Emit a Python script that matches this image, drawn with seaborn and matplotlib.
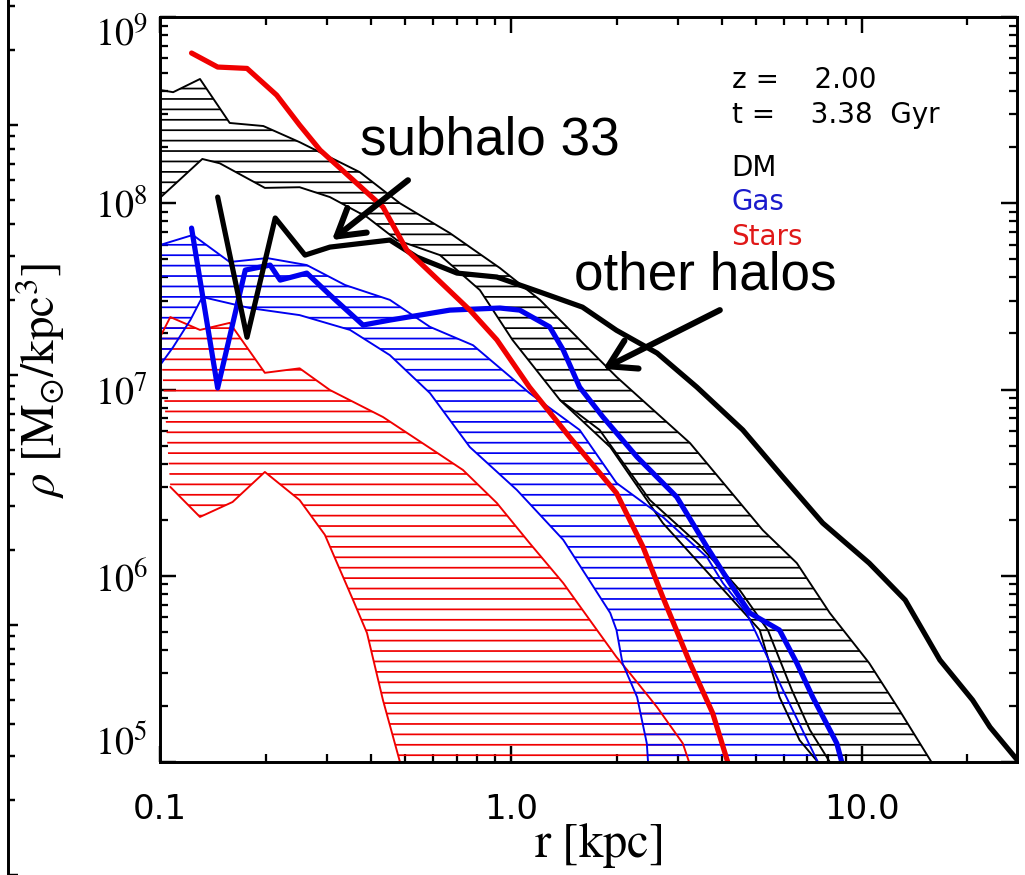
import numpy as np
import matplotlib
matplotlib.use("Agg")
import matplotlib.pyplot as plt
import seaborn as sns
from matplotlib.ticker import LogLocator, NullFormatter

# ---------------- data ----------------
# subhalo 33 profiles (thick lines)
r_star_sub = [0.123, 0.146, 0.177, 0.215, 0.25, 0.286, 0.432, 0.505, 0.764, 0.912, 1.13, 1.47, 2.00, 2.38, 2.71, 3.24, 3.76, 4.15]
rho_star_sub = [6.41e8, 5.39e8, 5.3e8, 3.81e8, 2.63e8, 1.93e8, 9.55e7, 5.61e7, 2.67e7, 1.85e7, 1.03e7, 5.56e6, 2.78e6, 1.43e6, 7.69e5, 3.40e5, 1.83e5, 1.0e5]

r_dm_sub = [0.146, 0.177, 0.213, 0.259, 0.305, 0.452, 0.540, 0.702, 0.912, 1.21, 1.60, 2.00, 2.61, 3.39, 4.58, 5.96, 7.74, 10.5, 13.3, 16.7, 20.7, 23.2, 27.7]
rho_dm_sub = [1.08e8, 1.91e7, 8.34e7, 5.27e7, 5.82e7, 6.35e7, 5.14e7, 4.22e7, 4.02e7, 3.34e7, 2.77e7, 2.08e7, 1.57e7, 1.03e7, 6.07e6, 3.39e6, 1.92e6, 1.17e6, 7.41e5, 3.53e5, 2.15e5, 1.54e5, 1.03e5]

r_gas_sub = [0.123, 0.146, 0.175, 0.206, 0.220, 0.262, 0.305, 0.379, 0.452, 0.670, 0.931, 1.06, 1.29, 1.41, 1.57, 1.83, 2.29, 2.97, 3.62, 4.21, 4.80, 5.83, 6.53, 7.25, 8.49, 8.77]
rho_gas_sub = [7.36e7, 1.02e7, 4.38e7, 4.66e7, 3.87e7, 4.22e7, 3.22e7, 2.22e7, 2.36e7, 2.67e7, 2.74e7, 2.67e7, 2.17e7, 1.63e7, 1.03e7, 7.12e6, 4.34e6, 2.65e6, 1.43e6, 9.14e5, 6.31e5, 5.11e5, 3.40e5, 2.23e5, 1.26e5, 1.0e5]

# other halos: upper / lower envelopes (thin lines + hatched bands)
r_dm_hi = [0.1, 0.109, 0.130, 0.158, 0.197, 0.250, 0.371, 0.483, 0.670, 0.931, 1.21, 2.00, 3.24, 5.22, 6.53, 8.11, 10.5, 12.8, 15.8]
rho_dm_hi = [4.06e8, 3.95e8, 4.65e8, 2.70e8, 2.60e8, 2.13e8, 1.47e8, 1.0e8, 6.92e7, 4.49e7, 3.03e7, 1.17e7, 5.16e6, 1.76e6, 1.17e6, 6.31e5, 3.40e5, 1.90e5, 1.0e5]
r_dm_lo = [0.1, 0.132, 0.148, 0.199, 0.250, 0.305, 0.389, 0.473, 0.628, 0.816, 1.01, 1.38, 1.92, 2.71, 4.21, 5.12, 5.83, 6.65, 7.50]
rho_dm_lo = [1.07e8, 1.73e8, 1.64e8, 1.21e8, 1.22e8, 1.08e8, 8.44e7, 6.35e7, 5.27e7, 3.42e7, 1.85e7, 8.79e6, 4.91e6, 1.92e6, 7.69e5, 5.11e5, 2.23e5, 1.31e5, 1.0e5]
r_dm_mid = [1.38, 1.79, 2.49, 3.45, 4.49, 5.40, 6.32, 7.11, 8.11]
rho_dm_mid = [8.79e6, 6.07e6, 2.55e6, 1.46e6, 8.38e5, 5.11e5, 2.44e5, 1.49e5, 1.0e5]

r_gas_hi = [0.1, 0.124, 0.158, 0.202, 0.262, 0.337, 0.452, 0.588, 0.780, 1.13, 1.57, 2.00, 2.71, 3.62, 4.02, 4.70, 5.22, 5.96, 7.50]
rho_gas_hi = [5.97e7, 6.76e7, 4.84e7, 5.08e7, 4.66e7, 3.64e7, 3.03e7, 2.17e7, 1.73e7, 9.57e6, 6.07e6, 3.15e6, 2.07e6, 1.26e6, 9.14e5, 6.31e5, 4.14e5, 2.44e5, 1.0e5]
r_gas_lo = [0.1, 0.109, 0.122, 0.132, 0.180, 0.250, 0.348, 0.452, 0.588, 0.764, 1.04, 1.41, 1.65, 1.92, 2.00, 2.08, 2.29, 2.44, 2.46]
rho_gas_lo = [1.35e7, 1.69e7, 2.36e7, 3.14e7, 2.74e7, 2.51e7, 2.09e7, 1.53e7, 9.57e6, 4.91e6, 2.89e6, 1.56e6, 9.85e5, 6.31e5, 5.11e5, 3.40e5, 2.23e5, 1.26e5, 1.0e5]

r_star_hi = [0.1, 0.107, 0.130, 0.158, 0.199, 0.250, 0.305, 0.432, 0.600, 0.730, 0.912, 1.13, 1.41, 1.76, 2.00, 2.18, 2.61, 3.09, 3.22]
rho_star_hi = [1.91e7, 2.45e7, 2.09e7, 2.28e7, 1.23e7, 1.30e7, 9.94e6, 7.12e6, 4.73e6, 3.70e6, 2.46e6, 1.50e6, 9.14e5, 5.11e5, 3.66e5, 3.01e5, 1.97e5, 1.26e5, 1.0e5]
r_star_lo = [0.107, 0.130, 0.161, 0.199, 0.250, 0.295, 0.355, 0.389, 0.432, 0.483]
rho_star_lo = [3.00e6, 2.07e6, 2.49e6, 3.61e6, 2.55e6, 1.66e6, 7.41e5, 4.93e5, 2.15e5, 1.0e5]

x_ticks = [0.1, 1.0, 10.0]
x_tick_labels = ["0.1", "1.0", "10.0"]
y_ticks = [1e5, 1e6, 1e7, 1e8, 1e9]
y_tick_labels = [r"$10^{5}$", r"$10^{6}$", r"$10^{7}$", r"$10^{8}$", r"$10^{9}$"]

legend_lines = ["z =    2.00", "t =    3.38  Gyr"]
legend_names = ["DM", "Gas", "Stars"]

BLACK, BLUE, RED = "black", "#0000f0", "#f00000"

# ---------------- style ----------------
sns.set_theme(style="ticks")
plt.rcParams.update({
    "font.family": ["DejaVu Sans"],
    "mathtext.fontset": "stix",
    "hatch.linewidth": 1.0,
    "axes.linewidth": 1.7,
    "axes.edgecolor": "black",
    "xtick.color": "black",
    "ytick.color": "black",
    "text.color": "black",
    "axes.labelcolor": "black",
})

fig = plt.figure(figsize=(8.2, 7.0), dpi=125)
ax = fig.add_axes([0.1561, 0.1291, 0.8361, 0.8514])
ax.set_xscale("log")
ax.set_yscale("log")

# hatched bands (other halos)
bands = [
    (r_dm_hi, rho_dm_hi, r_dm_lo, rho_dm_lo, BLACK),
    (r_star_hi, rho_star_hi, r_star_lo, rho_star_lo, RED),
    (r_gas_hi, rho_gas_hi, r_gas_lo, rho_gas_lo, BLUE),
]
for rh, yh, rl, yl, c in bands:
    ax.fill(np.r_[rh, rl[::-1]], np.r_[yh, yl[::-1]], facecolor="none",
            edgecolor=c, hatch="--", linewidth=0)

# thin envelope lines
thin = [
    (r_dm_hi, rho_dm_hi, BLACK), (r_dm_lo, rho_dm_lo, BLACK), (r_dm_mid, rho_dm_mid, BLACK),
    (r_star_hi, rho_star_hi, RED), (r_star_lo, rho_star_lo, RED),
    (r_gas_hi, rho_gas_hi, BLUE), (r_gas_lo, rho_gas_lo, BLUE),
]
for rr, yy, c in thin:
    sns.lineplot(x=rr, y=yy, ax=ax, color=c, lw=1.1, estimator=None, sort=False)

# thick subhalo lines
thick = [(r_gas_sub, rho_gas_sub, BLUE), (r_dm_sub, rho_dm_sub, BLACK), (r_star_sub, rho_star_sub, RED)]
for rr, yy, c in thick:
    sns.lineplot(x=rr, y=yy, ax=ax, color=c, lw=3.0, estimator=None, sort=False)

ax.set_xlim(0.1, 27.7)
ax.set_ylim(1e5, 1e9)

# ticks
ax.set_xticks(x_ticks)
ax.set_xticklabels(x_tick_labels)
ax.set_yticks(y_ticks)
ax.set_yticklabels(y_tick_labels)
for axis in (ax.xaxis, ax.yaxis):
    axis.set_minor_locator(LogLocator(base=10, subs=np.arange(2, 10), numticks=30))
    axis.set_minor_formatter(NullFormatter())
ax.tick_params(which="both", direction="in", top=True, right=True)
ax.tick_params(which="major", length=9.2, width=1.4)
ax.tick_params(which="minor", length=4.6, width=1.3)
ax.tick_params(axis="x", which="major", labelsize=19.5, pad=18)
ax.tick_params(axis="y", which="major", labelsize=22, pad=7)
ylabs = ax.get_yticklabels()
ylabs[0].set_va("bottom")
ylabs[-1].set_va("top")

ax.set_xlabel(r"$\mathrm{r\ [kpc]}$", fontsize=28, va="center")
ax.xaxis.set_label_coords(0.511, -0.112)
ax.set_ylabel(r"$\rho\ [\mathrm{M}_{\odot}/\mathrm{kpc}^{3}]$", fontsize=27, va="center")
ax.yaxis.set_label_coords(-0.14, 0.513)

# legend-like texts
ax.text(0.667, 0.915, legend_lines[0], transform=ax.transAxes, fontsize=16, va="center")
ax.text(0.667, 0.868, legend_lines[1], transform=ax.transAxes, fontsize=16, va="center")
for name, yy, c in zip(legend_names, [0.797, 0.752, 0.705], [BLACK, "#1a1acc", "#e01818"]):
    ax.text(0.667, yy, name, transform=ax.transAxes, fontsize=16, va="center", color=c)

# annotations
ax.text(0.385, 0.815, "subhalo 33", transform=ax.transAxes, fontsize=30.5,
        family="Liberation Sans", ha="center", va="baseline")
ax.text(0.636, 0.634, "other halos", transform=ax.transAxes, fontsize=30.5,
        family="Liberation Sans", ha="center", va="baseline")
arrow = dict(arrowstyle="->,head_length=0.5,head_width=0.3", lw=3.5, color="black",
             mutation_scale=30, shrinkA=0, shrinkB=0)
ax.annotate("", xy=(0.309, 6.35e7), xytext=(0.509, 1.33e8), arrowprops=arrow)
ax.annotate("", xy=(1.83, 1.29e7), xytext=(3.94, 2.67e7), arrowprops=arrow)

# edge of a neighbouring panel at the far left
axl = fig.add_axes([-0.05, 0.0, 0.0578, 1.0])
axl.patch.set_visible(False)
for s in ("left", "top", "bottom"):
    axl.spines[s].set_visible(False)
axl.spines["right"].set_linewidth(1.7)
axl.set_yscale("log")
axl.set_ylim(1.0, 10 ** 3.5)
axl.set_xticks([])
axl.yaxis.tick_right()
axl.yaxis.set_minor_locator(LogLocator(base=10, subs=np.arange(2, 10), numticks=30))
axl.tick_params(axis="y", which="both", direction="out", labelright=False, width=1.4)
axl.tick_params(axis="y", which="major", length=6)
axl.tick_params(axis="y", which="minor", length=4)

fig.savefig("out.png", dpi=125)
